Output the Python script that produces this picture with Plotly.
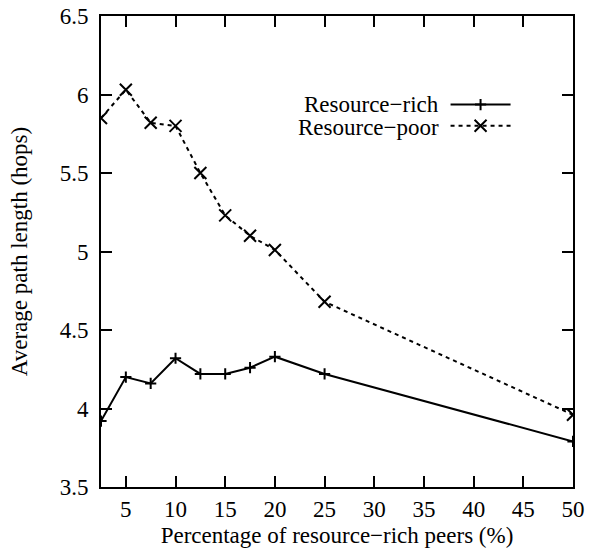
import plotly.graph_objects as go

pct = [2.5, 5, 7.5, 10, 12.5, 15, 17.5, 20, 25, 50]
rich = [3.92, 4.20, 4.16, 4.32, 4.22, 4.22, 4.26, 4.33, 4.22, 3.79]
poor = [5.85, 6.03, 5.82, 5.80, 5.50, 5.23, 5.10, 5.01, 4.68, 3.96]

x_ticks = [5, 10, 15, 20, 25, 30, 35, 40, 45, 50]
y_ticks = [3.5, 4, 4.5, 5, 5.5, 6, 6.5]
y_ticktext = ["3.5", "4", "4.5", "5", "5.5", "6", "6.5"]

series_names = ["Resource\u2212rich", "Resource\u2212poor"]

FONT = "Liberation Serif, Times New Roman, Times, serif"
FS = 23
fig = go.Figure()
fig.add_trace(go.Scatter(
    x=pct, y=rich, mode="lines+markers", name="",
    line=dict(color="black", width=2),
    marker=dict(symbol="cross-thin", size=8, line=dict(color="black", width=2)),
))
fig.add_trace(go.Scatter(
    x=pct, y=poor, mode="lines+markers", name=" ",
    line=dict(color="black", width=2, dash="4px,4px"),
    marker=dict(symbol="x-thin", size=12, line=dict(color="black", width=2)),
))

axis_common = dict(
    showline=True, linecolor="black", linewidth=2, mirror="ticks",
    ticks="inside", ticklen=11, tickwidth=2, tickcolor="black",
    showgrid=False, zeroline=False, automargin=False,
    tickfont=dict(family=FONT, size=FS, color="black"),
)

fig.update_layout(
    width=596, height=550,
    margin=dict(l=101, r=23, t=16, b=63),
    paper_bgcolor="white", plot_bgcolor="white",
    font=dict(family=FONT, size=FS, color="black"),
    showlegend=True,
    legend=dict(
        x=0.73, y=0.845, xanchor="left", yanchor="top",
        bgcolor="rgba(0,0,0,0)", itemwidth=60,
        font=dict(family=FONT, size=14, color="black"),
        tracegroupgap=0, itemclick=False,
    ),
    xaxis=dict(
        range=[2.5, 50], tickvals=x_ticks,
        title=dict(text="Percentage of resource\u2212rich peers (%)",
                   font=dict(family=FONT, size=FS, color="black"), standoff=6),
        ticklabelstandoff=0,
        **axis_common,
    ),
    yaxis=dict(
        range=[3.5, 6.5], tickvals=y_ticks, ticktext=y_ticktext,
        title=dict(text="Average path length (hops)",
                   font=dict(family=FONT, size=FS, color="black"), standoff=26),
        ticklabelstandoff=6,
        **axis_common,
    ),
)

for i, nm in enumerate(series_names):
    fig.add_annotation(
        text=nm, xref="paper", yref="paper",
        x=0.7187, y=[0.813, 0.764][i], xanchor="right", yanchor="middle",
        showarrow=False, borderpad=0,
        font=dict(family=FONT, size=FS, color="black"),
    )

fig.write_html("out.html")
